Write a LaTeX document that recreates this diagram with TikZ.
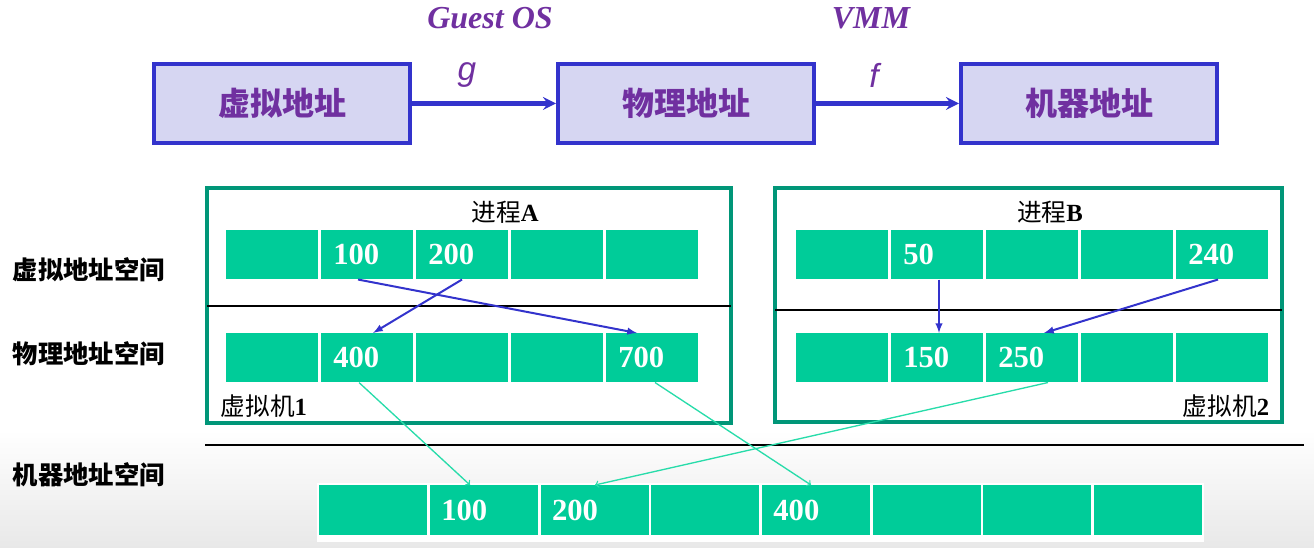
\documentclass[tikz,border=0pt]{standalone}
\usepackage{fontspec}
\setmainfont{Liberation Serif}
\setsansfont{Liberation Sans}
\newfontfamily\cjk{Noto Sans CJK SC}
\definecolor{boxfill}{RGB}{214,214,242}
\definecolor{boxblue}{RGB}{51,51,204}
\definecolor{labpurple}{RGB}{112,48,160}
\definecolor{vmgreen}{RGB}{0,150,120}
\definecolor{cellgreen}{RGB}{0,204,153}
\definecolor{mapgreen}{RGB}{40,220,170}

\begin{document}
\begin{tikzpicture}[x=0.75pt,y=-0.75pt,
    addr/.style={draw=boxblue,line width=3pt,fill=boxfill,
        minimum width=192pt,minimum height=59pt,
        font=\cjk\bfseries\fontsize{24}{28}\selectfont,text=labpurple},
    layer/.style={font=\bfseries\itshape\fontsize{24}{28}\selectfont,text=labpurple},
    fn/.style={font=\sffamily\itshape\fontsize{25}{28}\selectfont,text=labpurple},
    cell/.style={anchor=north west,fill=cellgreen,minimum width=69pt,
        minimum height=36.75pt,inner xsep=9pt,text width=51pt,align=left,
        text=white,font=\bfseries\fontsize{23}{24}\selectfont},
    mcell/.style={cell,minimum width=81pt,text width=64pt,inner xsep=8pt,
        minimum height=37.5pt},
    vm/.style={draw=vmgreen,line width=3pt},
    sep/.style={draw=black,line width=1.5pt},
    space/.style={anchor=west,font=\cjk\bfseries\fontsize{19}{22}\selectfont},
    tag/.style={font=\fontsize{18.5}{22}\selectfont},
    xlate/.style={->,>=stealth,draw=boxblue,line width=3.2pt},
    gmap/.style={->,>=latex,draw=boxblue,line width=1.5pt},
    hmap/.style={->,draw=mapgreen,line width=1pt}]
\useasboundingbox (0,0) rectangle (1314,548);
\shade[top color=white,bottom color=black!9] (0,430) rectangle (1314,548);

% address chain
\node[addr] (virt) at ( 282,103.5) {虚拟地址};
\node[addr] (phys) at ( 686,103.5) {物理地址};
\node[addr] (mach) at (1089,103.5) {机器地址};
\draw[xlate] (virt) -- (phys);
\draw[xlate] (phys) -- (mach);
\path
    ( 490,18) node[layer] (guest) {Guest OS}
    ( 871,18) node[layer] (vmm)   {VMM}
    ( 467,75) node[fn]    (g)     {g}
    ( 874,75) node[fn]    (f)     {f};

% left labels
\path
    (8,270) node[space] (vspace) {虚拟地址空间}
    (8,354) node[space] (pspace) {物理地址空间}
    (8,475) node[space] (mspace) {机器地址空间};

% VM 1
\draw[vm]  (207,188) rectangle (731,423);
\draw[sep] (207,306) -- (731,306);
\path
    (505,212) node[tag] (procA) {{\cjk 进程}\textbf{A}}
    (216,406) node[tag,anchor=west] (vm1) {{\cjk 虚拟机}\textbf{1}};
\path
      (226,230) node[cell] (va1) {}
    ++( 95,0)   node[cell] (va2) {100}
    ++( 95,0)   node[cell] (va3) {200}
    ++( 95,0)   node[cell] (va4) {}
    ++( 95,0)   node[cell] (va5) {};
\path
      (226,333) node[cell] (pa1) {}
    ++( 95,0)   node[cell] (pa2) {400}
    ++( 95,0)   node[cell] (pa3) {}
    ++( 95,0)   node[cell] (pa4) {}
    ++( 95,0)   node[cell] (pa5) {700};

% VM 2
\draw[vm]  (775,188) rectangle (1282,422);
\draw[sep] (775,310) -- (1282,310);
\path
    (1050,212) node[tag] (procB) {{\cjk 进程}\textbf{B}}
    (1274,406) node[tag,anchor=east] (vm2) {{\cjk 虚拟机}\textbf{2}};
\path
      (796,230) node[cell] (vb1) {}
    ++( 95,0)   node[cell] (vb2) {50}
    ++( 95,0)   node[cell] (vb3) {}
    ++( 95,0)   node[cell] (vb4) {}
    ++( 95,0)   node[cell] (vb5) {240};
\path
      (796,333) node[cell] (pb1) {}
    ++( 95,0)   node[cell] (pb2) {150}
    ++( 95,0)   node[cell] (pb3) {250}
    ++( 95,0)   node[cell] (pb4) {}
    ++( 95,0)   node[cell] (pb5) {};

% machine memory
\draw[sep] (205,445) -- (1304,445);
\fill[white] (317,483) rectangle (1204,542);
\path
      (319,485) node[mcell] (m1) {}
    ++(110.7,0) node[mcell] (m2) {100}
    ++(110.7,0) node[mcell] (m3) {200}
    ++(110.7,0) node[mcell] (m4) {}
    ++(110.7,0) node[mcell] (m5) {400}
    ++(110.7,0) node[mcell] (m6) {}
    ++(110.7,0) node[mcell] (m7) {}
    ++(110.7,0) node[mcell] (m8) {};

% guest OS mappings
\draw[gmap] (va2.south -| 358,0)  -- (pa5.north -| 637,0);
\draw[gmap] (va3.south -| 462,0)  -- (pa2.north -| 373,0);
\draw[gmap] (vb2.south -| 939,0)  -- (pb2.north -| 939,0);
\draw[gmap] (vb5.south -| 1218,0) -- (pb3.north -| 1044,0);

% VMM mappings
\draw[hmap] (pa2.south -| 359,0)  -- (m2.north -| 470,0);
\draw[hmap] (pa5.south -| 655,0)  -- (m5.north -| 811,0);
\draw[hmap] (pb3.south -| 1048,0) -- (m3.north -| 595,0);
\end{tikzpicture}
\end{document}
